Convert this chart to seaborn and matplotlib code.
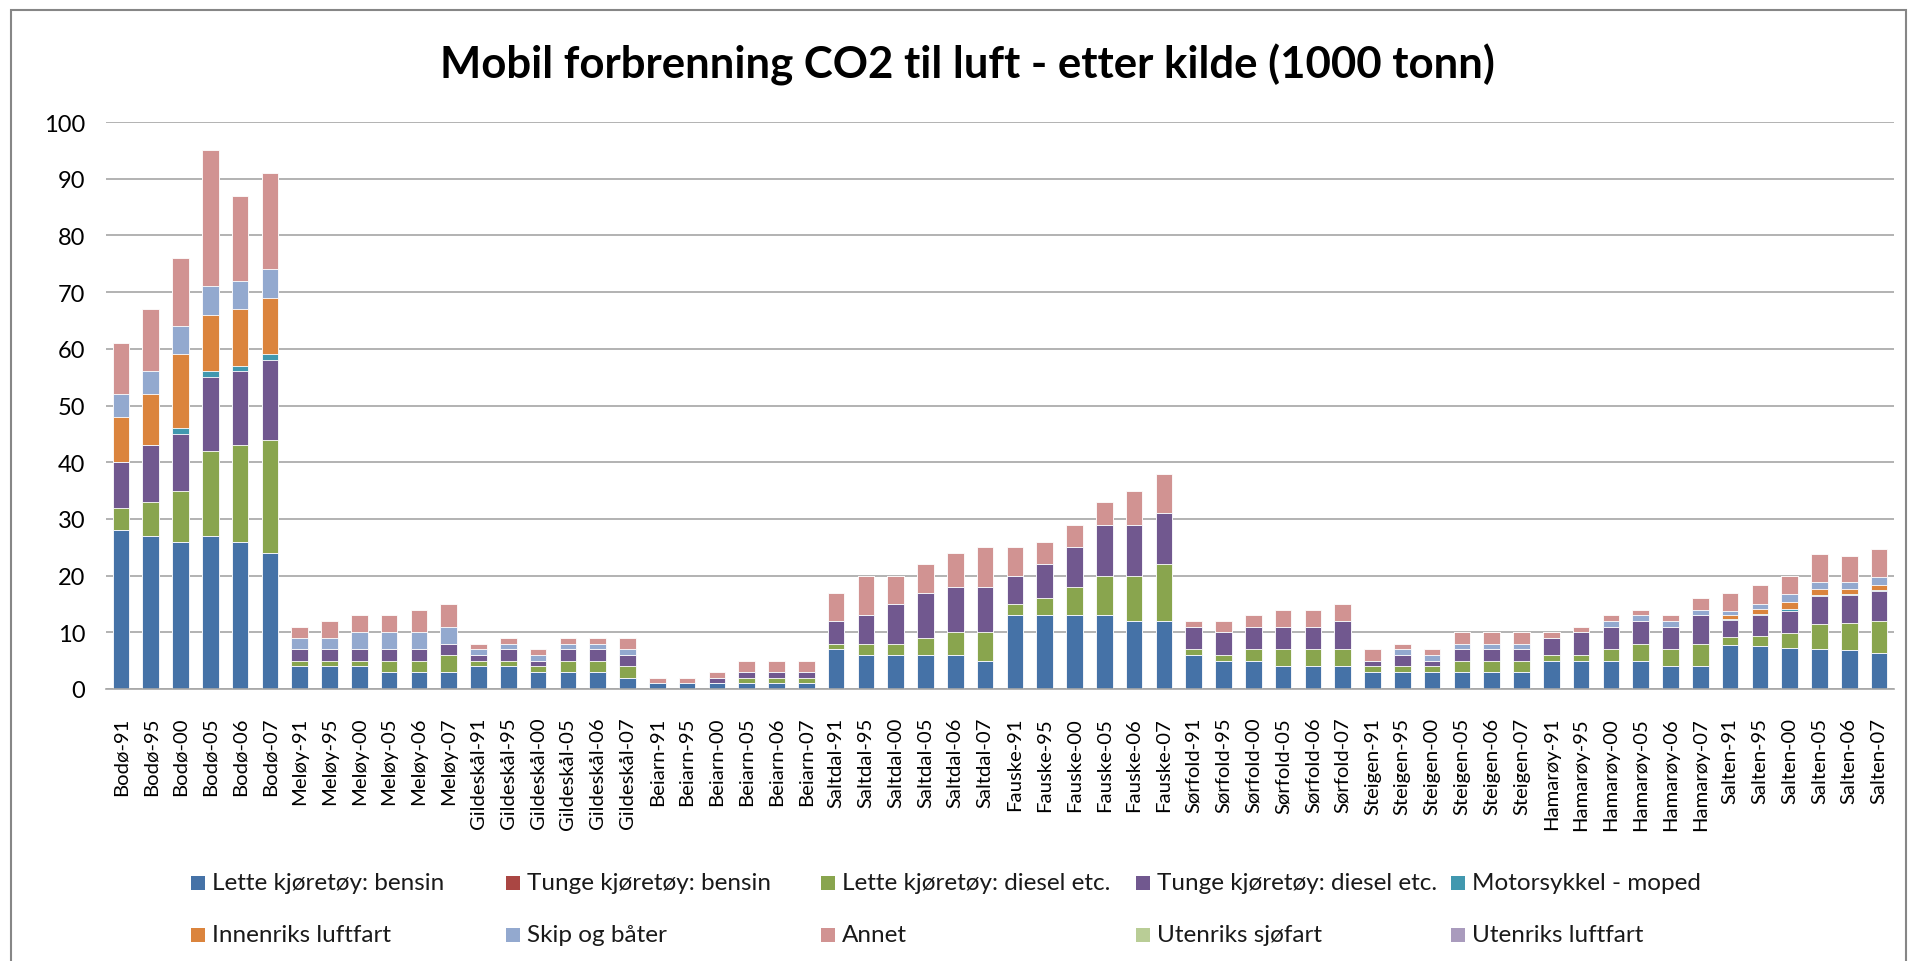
import numpy as np
import pandas as pd
import matplotlib
matplotlib.use("Agg")
import matplotlib.pyplot as plt
from matplotlib.patches import Rectangle
import seaborn as sns

# Categories
regions = ['Bodø', 'Meløy', 'Gildeskål', 'Beiarn', 'Saltdal', 'Fauske',
           'Sørfold', 'Steigen', 'Hamarøy', 'Salten']
years = ['91', '95', '00', '05', '06', '07']
labels = [f'{r}-{y}' for r in regions for y in years]

# Series values (1000 tonn), one per bar
lette_bensin = [28, 27, 26, 27, 26, 24,
                4, 4, 4, 3, 3, 3,
                4, 4, 3, 3, 3, 2,
                1, 1, 1, 1, 1, 1,
                7, 6, 6, 6, 6, 5,
                13, 13, 13, 13, 12, 12,
                6, 5, 5, 4, 4, 4,
                3, 3, 3, 3, 3, 3,
                5, 5, 5, 5, 4, 4,
                7.7, 7.5, 7.2, 7.0, 6.8, 6.4]
tunge_bensin = [0] * 60
lette_diesel = [4, 6, 9, 15, 17, 20,
                1, 1, 1, 2, 2, 3,
                1, 1, 1, 2, 2, 2,
                0, 0, 0, 1, 1, 1,
                1, 2, 2, 3, 4, 5,
                2, 3, 5, 7, 8, 10,
                1, 1, 2, 3, 3, 3,
                1, 1, 1, 2, 2, 2,
                1, 1, 2, 3, 3, 4,
                1.4, 1.8, 2.6, 4.4, 4.8, 5.6]
tunge_diesel = [8, 10, 10, 13, 13, 14,
                2, 2, 2, 2, 2, 2,
                1, 2, 1, 2, 2, 2,
                0, 0, 1, 1, 1, 1,
                4, 5, 7, 8, 8, 8,
                5, 6, 7, 9, 9, 9,
                4, 4, 4, 4, 4, 5,
                1, 2, 1, 2, 2, 2,
                3, 4, 4, 4, 4, 5,
                3.1, 3.8, 4.0, 5.0, 5.0, 5.3]
motorsykkel = [0, 0, 1, 1, 1, 1,
               0, 0, 0, 0, 0, 0,
               0, 0, 0, 0, 0, 0,
               0, 0, 0, 0, 0, 0,
               0, 0, 0, 0, 0, 0,
               0, 0, 0, 0, 0, 0,
               0, 0, 0, 0, 0, 0,
               0, 0, 0, 0, 0, 0,
               0, 0, 0, 0, 0, 0,
               0.2, 0.2, 0.3, 0.2, 0.1, 0.2]
innenriks_luftfart = [8, 9, 13, 10, 10, 10,
                      0, 0, 0, 0, 0, 0,
                      0, 0, 0, 0, 0, 0,
                      0, 0, 0, 0, 0, 0,
                      0, 0, 0, 0, 0, 0,
                      0, 0, 0, 0, 0, 0,
                      0, 0, 0, 0, 0, 0,
                      0, 0, 0, 0, 0, 0,
                      0, 0, 0, 0, 0, 0,
                      0.7, 0.8, 1.3, 1.1, 1.0, 0.9]
skip_baater = [4, 4, 5, 5, 5, 5,
               2, 2, 3, 3, 3, 3,
               1, 1, 1, 1, 1, 1,
               0, 0, 0, 0, 0, 0,
               0, 0, 0, 0, 0, 0,
               0, 0, 0, 0, 0, 0,
               0, 0, 0, 0, 0, 0,
               0, 1, 1, 1, 1, 1,
               0, 0, 1, 1, 1, 1,
               0.7, 0.9, 1.4, 1.2, 1.2, 1.3]
annet = [9, 11, 12, 24, 15, 17,
         2, 3, 3, 3, 4, 4,
         1, 1, 1, 1, 1, 2,
         1, 1, 1, 2, 2, 2,
         5, 7, 5, 5, 6, 7,
         5, 4, 4, 4, 6, 7,
         1, 2, 2, 3, 3, 3,
         2, 1, 1, 2, 2, 2,
         1, 1, 1, 1, 1, 2,
         3.2, 3.3, 3.1, 4.9, 4.5, 5.0]
utenriks_sjofart = [0] * 60
utenriks_luftfart = [0] * 60

series_names = ['Lette kjøretøy: bensin', 'Tunge kjøretøy: bensin',
                'Lette kjøretøy: diesel etc.', 'Tunge kjøretøy: diesel etc.',
                'Motorsykkel - moped', 'Innenriks luftfart', 'Skip og båter',
                'Annet', 'Utenriks sjøfart', 'Utenriks luftfart']
colors = ['#4572A7', '#AA4643', '#89A54E', '#71588F', '#4198AF',
          '#DB843D', '#93A9CF', '#D19392', '#B9CD96', '#A99BBD']

df = pd.DataFrame({
    'kategori': labels,
    series_names[0]: lette_bensin,
    series_names[1]: tunge_bensin,
    series_names[2]: lette_diesel,
    series_names[3]: tunge_diesel,
    series_names[4]: motorsykkel,
    series_names[5]: innenriks_luftfart,
    series_names[6]: skip_baater,
    series_names[7]: annet,
    series_names[8]: utenriks_sjofart,
    series_names[9]: utenriks_luftfart,
})

sns.set_style('white')
plt.rcParams['font.family'] = ['Lato', 'DejaVu Sans']

W, H = 1910, 962
fig = plt.figure(figsize=(W / 100, H / 100), dpi=100)
ax = fig.add_axes([106 / W, 1 - 690 / H, (1894 - 106) / W, (690 - 123) / H])

# stacked bars: draw cumulative totals from the top series down
cum = df[series_names].cumsum(axis=1)
for name, col in reversed(list(zip(series_names, colors))):
    sns.barplot(x=df['kategori'], y=cum[name], color=col, saturation=1,
                width=0.56, edgecolor='white', linewidth=0.6, ax=ax,
                errorbar=None)

ax.set_ylim(0, 100)
ax.set_xlim(-0.5, len(labels) - 0.5)
ax.set_yticks(np.arange(0, 101, 10))
ax.set_xlabel('')
ax.set_ylabel('')
ax.yaxis.grid(True, color='#A6A6A6', linewidth=1.2)
ax.set_axisbelow(True)
for s in ['left', 'right', 'top']:
    ax.spines[s].set_visible(False)
ax.spines['bottom'].set_color('#A6A6A6')
ax.spines['bottom'].set_linewidth(1.2)
ax.tick_params(axis='y', length=0, pad=15, labelsize=17, labelcolor='black')
ax.tick_params(axis='x', length=0, pad=20, labelsize=14.6, labelcolor='black')
plt.setp(ax.get_xticklabels(), rotation=90, ha='center', va='top')

fig.text(967 / W, 1 - 65 / H, 'Mobil forbrenning CO2 til luft - etter kilde (1000 tonn)',
         ha='center', va='center', fontsize=31.5, fontweight='bold', color='black')

# legend, five fixed-width columns in two rows like the original
for i, (name, col) in enumerate(zip(series_names, colors)):
    x0 = 191 + (i % 5) * 315
    yc = 884 + (i // 5) * 52
    fig.patches.append(Rectangle((x0 / W, 1 - (yc + 7) / H), 14 / W, 14 / H,
                                 transform=fig.transFigure, facecolor=col,
                                 edgecolor='none'))
    fig.text((x0 + 21) / W, 1 - yc / H, name, ha='left', va='center',
             fontsize=17.5, color='#1a1a1a')

# chart border
fig.patches.append(Rectangle((11 / W, -0.05), (1906 - 11) / W, 1 - 11 / H + 0.05,
                             transform=fig.transFigure, facecolor='none',
                             edgecolor='#868686', linewidth=1.5))

fig.savefig('out.png', dpi=100)
